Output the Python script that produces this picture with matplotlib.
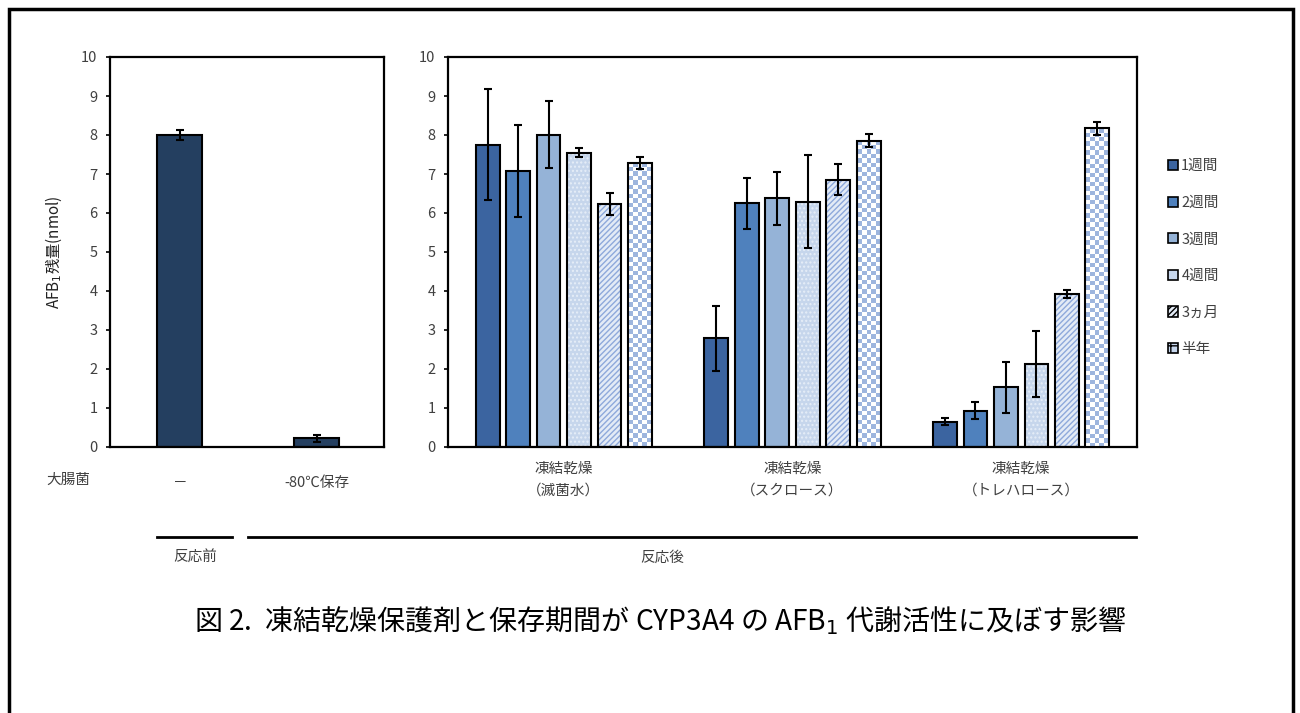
import numpy as np
import matplotlib
matplotlib.use('Agg')
import matplotlib.pyplot as plt
from matplotlib.patches import Patch, Rectangle
from matplotlib.lines import Line2D

plt.rcParams['font.family'] = ['Noto Sans CJK JP', 'DejaVu Sans']

# --- data ---
pre_labels = ['－', '-80℃保存']
pre_values = [8.0, 0.22]
pre_errors = [0.12, 0.10]

groups = ['凍結乾燥\n（滅菌水）', '凍結乾燥\n（スクロース）', '凍結乾燥\n（トレハロース）']
periods = ['1週間', '2週間', '3週間', '4週間', '3ヵ月', '半年']
values = [
    [7.75, 2.79, 0.65],   # 1週間
    [7.08, 6.25, 0.93],   # 2週間
    [8.01, 6.38, 1.53],   # 3週間
    [7.55, 6.29, 2.13],   # 4週間
    [6.23, 6.85, 3.92],   # 3ヵ月
    [7.29, 7.85, 8.17],   # 半年
]
errors = [
    [1.42, 0.83, 0.09],
    [1.18, 0.65, 0.22],
    [0.85, 0.68, 0.66],
    [0.12, 1.20, 0.85],
    [0.27, 0.40, 0.10],
    [0.15, 0.17, 0.17],
]

face = ['#3B64A0', '#4F81BD', '#95B3D7', '#C6D6EC', '#E3EBF6', '#FFFFFF']
hatch = [None, None, None, '....', '//////', None]
hatch_col = [None, None, None, '#E6EEF8', '#8EA9DB', None]
checker_col = '#9DB5DE'

tick_col = '#404040'

fig = plt.figure(figsize=(13, 7.13), dpi=100)
W, H = 1300, 713


def fx(px):
    return px / W


def fy(py):
    return 1 - py / H


# --- left panel ---
axl = fig.add_axes([fx(110), fy(447), fx(384 - 110), fy(57) - fy(447)])
xl = np.arange(len(pre_values))
axl.bar(xl, pre_values, width=0.33, color='#243F60', edgecolor='black',
        linewidth=1.5, zorder=2)
axl.errorbar(xl, pre_values, yerr=pre_errors, fmt='none', ecolor='black',
             elinewidth=1.5, capsize=3, capthick=1.5, zorder=3)
axl.set_xlim(-0.51, 1.49)
axl.set_ylim(0, 10)
axl.set_yticks(range(0, 11))
axl.set_xticks(xl)
axl.set_xticklabels(pre_labels, fontsize=10.5, color=tick_col)
axl.tick_params(axis='x', length=0, pad=21)
axl.tick_params(axis='y', direction='out', length=3, width=1.2,
                labelsize=10.5, labelcolor=tick_col, pad=6)
axl.set_ylabel('AFB$_1$残量(nmol)', fontsize=11, color='#222222', labelpad=12)
for s in axl.spines.values():
    s.set_linewidth(1.6)

# --- right panel ---
axr = fig.add_axes([fx(448), fy(447), fx(1137 - 448), fy(57) - fy(447)])
centers = np.arange(len(groups)) * 7.5
bw = 0.78
handles = []
for i, p in enumerate(periods):
    xs = centers + (i - 2.5)
    if hatch[i] is not None:
        axr.bar(xs, values[i], width=bw, color=face[i], edgecolor=hatch_col[i],
                hatch=hatch[i], linewidth=0, zorder=2)
    else:
        axr.bar(xs, values[i], width=bw, color=face[i], linewidth=0, zorder=2)
    bars = axr.bar(xs, values[i], width=bw, fill=False, edgecolor='black',
                   linewidth=1.5, zorder=4)
    if i == 5:
        # checkerboard fill clipped to each bar
        for b in bars:
            x0 = b.get_x()
            h = b.get_height()
            nr = max(1, int(round(h * 39 / 4.5)))
            nc = 5
            chk = (np.add.outer(np.arange(nr), np.arange(nc)) % 2).astype(float)
            cmap = matplotlib.colors.ListedColormap(['#FFFFFF', checker_col])
            im = axr.imshow(chk, extent=(x0, x0 + bw, 0, h), aspect='auto',
                            cmap=cmap, interpolation='nearest', origin='lower',
                            zorder=3)
            im.set_clip_path(b)
    axr.errorbar(xs, values[i], yerr=errors[i], fmt='none', ecolor='black',
                 elinewidth=1.5, capsize=3, capthick=1.5, zorder=5)
    if i == 3:
        handles.append(Patch(facecolor=face[i], edgecolor='black', linewidth=1.2))
    elif hatch[i] is not None:
        handles.append(Patch(facecolor=face[i], edgecolor='black', hatch=hatch[i],
                             linewidth=1.2))
    elif i == 5:
        handles.append(Patch(facecolor='#C6D6EC', edgecolor='black', hatch='++',
                             linewidth=1.2))
    else:
        handles.append(Patch(facecolor=face[i], edgecolor='black', linewidth=1.2))

axr.set_xlim(-3.80, 18.80)
axr.set_ylim(0, 10)
axr.set_yticks(range(0, 11))
axr.set_xticks(centers)
axr.set_xticklabels(groups, fontsize=10.5, color=tick_col, linespacing=1.7)
axr.tick_params(axis='x', length=0, pad=11)
axr.tick_params(axis='y', direction='out', length=3, width=1.2,
                labelsize=10.5, labelcolor=tick_col, pad=6)
for s in axr.spines.values():
    s.set_linewidth(1.6)

leg = fig.legend(handles, periods, loc='upper left',
                 bbox_to_anchor=(fx(1155), fy(146)), frameon=False,
                 fontsize=10.5, handlelength=0.7, handleheight=0.7,
                 handletextpad=0.2, labelspacing=1.55)
for t in leg.get_texts():
    t.set_color(tick_col)

# --- annotations ---
fig.text(fx(68), fy(480), '大腸菌', fontsize=10.5, color=tick_col,
         ha='center', va='center')
fig.add_artist(Line2D([fx(157), fx(232)], [fy(537), fy(537)], color='black', lw=2))
fig.add_artist(Line2D([fx(248), fx(1136)], [fy(537), fy(537)], color='black', lw=2))
fig.text(fx(195), fy(558), '反応前', fontsize=10.5, color=tick_col,
         ha='center', va='center')
fig.text(fx(662), fy(558), '反応後', fontsize=10.5, color=tick_col,
         ha='center', va='center')
fig.text(fx(660), fy(621), '図 2.  凍結乾燥保護剤と保存期間が CYP3A4 の AFB$_1$ 代謝活性に及ぼす影響',
         fontsize=20.2, color='black', ha='center', va='center')

fig.add_artist(Rectangle((fx(9), -0.05), fx(1293 - 9), fy(9) + 0.05,
                         fill=False, edgecolor='black', lw=2.5,
                         transform=fig.transFigure))

fig.savefig('out.png', dpi=100)
